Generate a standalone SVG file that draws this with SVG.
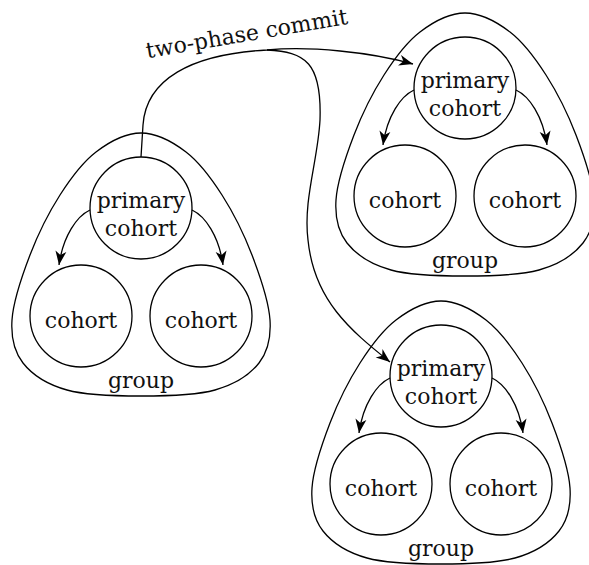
<svg xmlns="http://www.w3.org/2000/svg" xmlns:xlink="http://www.w3.org/1999/xlink" width="589" height="565" viewBox="0 0 589 565">
<style>
  .line { fill: none; stroke: #000; stroke-width: 1.3; }
  .node { fill: #fff; stroke: #000; stroke-width: 1.3; }
  .txt { font-family: 'DejaVu Serif', serif; font-size: 22px; fill: #111; text-anchor: middle; }
  .arrow { fill: none; stroke: #000; stroke-width: 1.3; marker-end: url(#stealth); }
</style>
<defs>
  <marker id="stealth" markerUnits="userSpaceOnUse" viewBox="-15 -7 16 14" markerWidth="16" markerHeight="14" refX="0" refY="0" orient="auto">
    <path d="M0,0 L-14,-5.5 L-10,0 L-14,5.5 Z" fill="#000"/>
  </marker>
  <path id="outline" d="M0,-75 C-15,-75 -31.5,-66.33 -45,-56 C-58.5,-45.67 -70,-30.17 -81,-13 C-92,4.17 -103,26.17 -111,47 C-119,67.83 -127.83,94 -129,112 C-130.17,130 -127.17,143.33 -118,155 C-108.83,166.67 -93.67,176.5 -74,182 C-54.33,187.5 -24.67,188 0,188 C24.67,188 54.33,187.5 74,182 C93.67,176.5 108.83,166.67 118,155 C127.17,143.33 130.17,130 129,112 C127.83,94 119,67.83 111,47 C103,26.17 92,4.17 81,-13 C70,-30.17 58.5,-45.67 45,-56 C31.5,-66.33 15,-75 0,-75 Z"/>
</defs>

<!-- group outlines -->
<g id="group-a" transform="translate(141,208)">
  <use xlink:href="#outline" href="#outline" class="line"/>
  <text class="txt" x="0" y="180">group</text>
</g>
<g id="group-b" transform="translate(465,88)">
  <use xlink:href="#outline" href="#outline" class="line"/>
  <text class="txt" x="0" y="180">group</text>
</g>
<g id="group-c" transform="translate(441,376)">
  <use xlink:href="#outline" href="#outline" class="line"/>
  <text class="txt" x="0" y="180">group</text>
</g>

<!-- connectors -->
<g id="connectors">
  <path class="arrow" d="M141,157 L143,125 C146,80 190,54 267,50 C310,46 370,52 413,64"/>
  <path class="arrow" d="M267,50 C305,52 322,62 320,120 C318,160 303,200 308,240 C314,300 350,330 390,362"/>
  <g transform="translate(141,208)">
    <path class="arrow" d="M-51,2 C-64,8 -78,28 -82,57"/>
    <path class="arrow" d="M51,2 C64,8 78,28 82,57"/>
  </g>
  <g transform="translate(465,88)">
    <path class="arrow" d="M-51,2 C-64,8 -78,28 -82,57"/>
    <path class="arrow" d="M51,2 C64,8 78,28 82,57"/>
  </g>
  <g transform="translate(441,376)">
    <path class="arrow" d="M-51,2 C-64,8 -78,28 -82,57"/>
    <path class="arrow" d="M51,2 C64,8 78,28 82,57"/>
  </g>
</g>

<text class="txt" transform="translate(248,41) rotate(-9.7)" x="0" y="0">two-phase commit</text>

<!-- nodes: group A -->
<g id="a-primary">
  <circle class="node" cx="141" cy="208" r="51"/>
  <text class="txt" x="141" y="208">primary</text>
  <text class="txt" x="141" y="235.5">cohort</text>
</g>
<g id="a-cohort1">
  <circle class="node" cx="81" cy="316" r="51"/>
  <text class="txt" x="81" y="328">cohort</text>
</g>
<g id="a-cohort2">
  <circle class="node" cx="201" cy="316" r="51"/>
  <text class="txt" x="201" y="328">cohort</text>
</g>

<!-- nodes: group B -->
<g id="b-primary">
  <circle class="node" cx="465" cy="88" r="51"/>
  <text class="txt" x="465" y="88">primary</text>
  <text class="txt" x="465" y="115.5">cohort</text>
</g>
<g id="b-cohort1">
  <circle class="node" cx="405" cy="196" r="51"/>
  <text class="txt" x="405" y="208">cohort</text>
</g>
<g id="b-cohort2">
  <circle class="node" cx="525" cy="196" r="51"/>
  <text class="txt" x="525" y="208">cohort</text>
</g>

<!-- nodes: group C -->
<g id="c-primary">
  <circle class="node" cx="441" cy="376" r="51"/>
  <text class="txt" x="441" y="376">primary</text>
  <text class="txt" x="441" y="403.5">cohort</text>
</g>
<g id="c-cohort1">
  <circle class="node" cx="381" cy="484" r="51"/>
  <text class="txt" x="381" y="496">cohort</text>
</g>
<g id="c-cohort2">
  <circle class="node" cx="501" cy="484" r="51"/>
  <text class="txt" x="501" y="496">cohort</text>
</g>
</svg>
